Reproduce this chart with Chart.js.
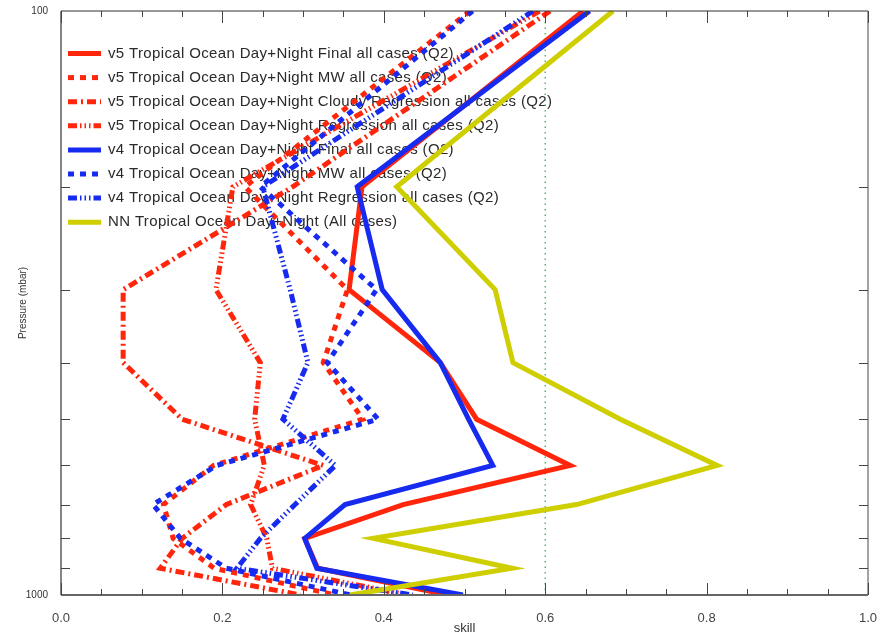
<!DOCTYPE html>
<html>
<head>
<meta charset="utf-8">
<script src="https://cdn.jsdelivr.net/npm/chart.js@4"></script>
<style>
  html, body { margin: 0; padding: 0; background: #fff; }
</style>
</head>
<body>
<canvas id="myChart" width="888" height="634"></canvas>
<script>
// pressure levels (mbar) shared by every profile
const pressure = [100, 200, 300, 400, 500, 600, 700, 800, 900, 1000];

// skill per level
const v5Final  = [0.647, 0.373, 0.357, 0.470, 0.515, 0.631, 0.424, 0.302, 0.318, 0.480];
const v5MW     = [0.507, 0.228, 0.355, 0.325, 0.374, 0.189, 0.127, 0.139, 0.190, 0.340];
const v5Cloudy = [0.606, 0.287, 0.077, 0.077, 0.150, 0.325, 0.205, 0.150, 0.123, 0.297];
const v5Regr   = [0.593, 0.213, 0.192, 0.247, 0.240, 0.252, 0.235, 0.255, 0.262, 0.430];
const v4Final  = [0.655, 0.367, 0.398, 0.470, 0.505, 0.535, 0.352, 0.302, 0.317, 0.498];
const v4MW     = [0.510, 0.247, 0.391, 0.330, 0.393, 0.193, 0.114, 0.148, 0.205, 0.360];
const v4Regr   = [0.585, 0.250, 0.284, 0.306, 0.275, 0.340, 0.290, 0.247, 0.218, 0.436];
const nnAll    = [0.684, 0.416, 0.538, 0.560, 0.693, 0.813, 0.639, 0.387, 0.559, 0.358];

// dotted reference line
const refSkill = [0.6, 0.6];
const refPressure = [100, 1000];

// axis ticks
const xTickLabels = [0, 0.2, 0.4, 0.6, 0.8, 1.0];
const yTickLabels = [100, 1000];
const yMinorTicks = [200, 300, 400, 500, 600, 700, 800, 900];

const red = 'rgb(255,38,12)';
const blue = 'rgb(22,42,240)';
const yellow = 'rgb(206,206,0)';
const dashed = [6, 6];
const dashDot = [9, 4, 2, 4];
const dash3Dot = [9, 3, 1.5, 3, 1.5, 3, 1.5, 3];

function pts(xs, ys) {
  return xs.map((v, i) => ({x: v, y: ys[i]}));
}

function profile(label, vals, color, dash, order) {
  return {
    label: label,
    data: pts(vals, pressure),
    borderColor: color,
    backgroundColor: color,
    borderWidth: 5,
    borderDash: dash,
    pointRadius: 0,
    tension: 0,
    fill: false,
    order: order
  };
}

const tickFont = {family: '"Liberation Sans", Arial, sans-serif', size: 13};

// IDL style box with inward ticks
const axisBox = {
  id: 'axisBox',
  afterDraw(chart) {
    const {ctx, chartArea: a, scales: {x, y}} = chart;
    ctx.save();
    function seg(x1, y1, x2, y2) {
      ctx.beginPath(); ctx.moveTo(x1, y1); ctx.lineTo(x2, y2); ctx.stroke();
    }
    ctx.strokeStyle = '#333';
    ctx.lineWidth = 1.2;
    seg(a.left, a.top, a.right, a.top);
    seg(a.left, a.top, a.left, a.bottom);
    ctx.strokeStyle = '#666';
    seg(a.right, a.top, a.right, a.bottom);
    ctx.lineWidth = 2;
    seg(a.left, a.bottom, a.right, a.bottom);
    ctx.lineWidth = 1;
    ctx.strokeStyle = '#444';
    for (let k = 0; k <= 20; k++) {
      const px = Math.round(x.getPixelForValue(k * 0.05)) + 0.5;
      const len = k % 4 === 0 ? 12 : 6;
      seg(px, a.bottom, px, a.bottom - len);
      seg(px, a.top, px, a.top + len);
    }
    yMinorTicks.forEach(p => {
      const py = Math.round(y.getPixelForValue(p)) + 0.5;
      seg(a.left, py, a.left + 9, py);
      seg(a.right, py, a.right - 9, py);
    });
    ctx.restore();
  }
};

// legend drawn inside the plot, under the lines
const boxLegend = {
  id: 'boxLegend',
  beforeDatasetsDraw(chart) {
    const {ctx, chartArea: a} = chart;
    ctx.save();
    ctx.font = '15px "Liberation Sans", Arial, sans-serif';
    ctx.letterSpacing = '0.35px';
    ctx.textBaseline = 'middle';
    let row = 0;
    chart.data.datasets.forEach(d => {
      if (d.noLegend) return;
      const yy = a.top + 42.5 + row * 24.1;
      ctx.beginPath();
      ctx.setLineDash(d.borderDash);
      ctx.strokeStyle = d.borderColor;
      ctx.lineWidth = 5;
      ctx.moveTo(a.left + 7, yy);
      ctx.lineTo(a.left + 40, yy);
      ctx.stroke();
      ctx.setLineDash([]);
      ctx.fillStyle = '#2a2a2a';
      ctx.fillText(d.label, a.left + 47, yy);
      row++;
    });
    ctx.restore();
  }
};

const ctx = document.getElementById('myChart');

new Chart(ctx, {
  type: 'line',
  data: {
    datasets: [
      profile('v5 Tropical Ocean Day+Night Final all cases (Q2)', v5Final, red, [], 2),
      profile('v5 Tropical Ocean Day+Night MW all cases (Q2)', v5MW, red, dashed, 2),
      profile('v5 Tropical Ocean Day+Night Cloudy Regression all cases (Q2)', v5Cloudy, red, dashDot, 2),
      profile('v5 Tropical Ocean Day+Night Regression all cases (Q2)', v5Regr, red, dash3Dot, 2),
      profile('v4 Tropical Ocean Day+Night Final all cases (Q2)', v4Final, blue, [], 1),
      profile('v4 Tropical Ocean Day+Night MW all cases (Q2)', v4MW, blue, dashed, 1),
      profile('v4 Tropical Ocean Day+Night Regression all cases (Q2)', v4Regr, blue, dash3Dot, 1),
      profile('NN Tropical Ocean Day+Night (All cases)', nnAll, yellow, [], 0),
      {
        label: 'ref',
        noLegend: true,
        data: pts(refSkill, refPressure),
        borderColor: 'rgb(40,170,80)',
        borderWidth: 1.2,
        borderDash: [1.5, 4],
        pointRadius: 0,
        fill: false,
        order: 5
      }
    ]
  },
  options: {
    responsive: false,
    animation: false,
    devicePixelRatio: 1,
    layout: {padding: {top: 9, right: 20, left: 0, bottom: 0}},
    plugins: {
      legend: {display: false},
      tooltip: {enabled: false}
    },
    scales: {
      x: {
        type: 'linear',
        min: 0,
        max: 1,
        afterBuildTicks: s => { s.ticks = xTickLabels.map(v => ({value: v})); },
        afterFit: s => { s.height = 39; },
        ticks: {
          callback: v => Number(v).toFixed(1),
          font: tickFont,
          color: '#444',
          padding: 8,
          maxRotation: 0,
          autoSkip: false
        },
        grid: {display: false},
        border: {display: false},
        title: {
          display: true,
          text: 'skill',
          font: {family: '"Liberation Sans", Arial, sans-serif', size: 13},
          color: '#333',
          padding: {top: 0, bottom: -2}
        }
      },
      y: {
        type: 'logarithmic',
        reverse: true,
        min: 100,
        max: 1000,
        afterBuildTicks: s => { s.ticks = yTickLabels.map(v => ({value: v})); },
        afterFit: s => { s.width = 61; },
        ticks: {
          callback: v => String(v),
          font: {family: '"Liberation Sans", Arial, sans-serif', size: 10},
          color: '#333',
          padding: 5,
          autoSkip: false
        },
        grid: {display: false},
        border: {display: false},
        title: {
          display: true,
          text: 'Pressure (mbar)',
          font: {family: '"Liberation Sans", Arial, sans-serif', size: 10},
          color: '#333',
          padding: {top: 17, bottom: 0}
        }
      }
    }
  },
  plugins: [axisBox, boxLegend]
});
</script>
</body>
</html>
